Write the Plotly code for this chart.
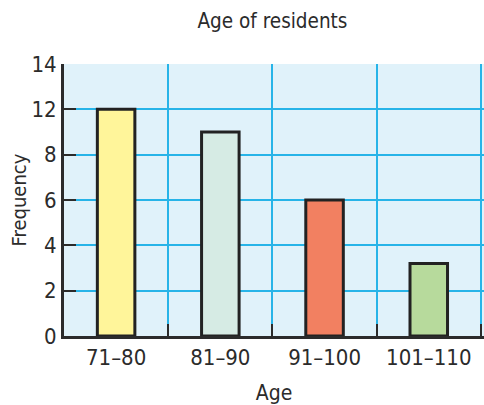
import plotly.graph_objects as go

# Age groups and how many residents fall in each
age_groups = ["71–80", "81–90", "91–100", "101–110"]
bar_heights = [10, 9, 6, 3.2]
bar_colors = ["#fff59a", "#d6ebe4", "#f28061", "#b7da9c"]

# Frequency axis: gridline positions and the labels printed beside them
y_tick_vals = [0, 2, 4, 6, 8, 10, 12]
y_tick_text = ["0", "2", "4", "6", "8", "12", "14"]

FONT = "Liberation Sans Narrow, DejaVu Sans Condensed, Roboto, sans-serif"
INK = "#2b2b2b"
GRID = "#27b4e8"

fig = go.Figure(
    go.Bar(
        x=age_groups,
        y=bar_heights,
        width=0.36,
        marker=dict(color=bar_colors, line=dict(color="#222222", width=3)),
        hoverinfo="skip",
    )
)

fig.update_layout(
    width=484,
    height=405,
    margin=dict(l=64, r=0, t=64, b=69),
    paper_bgcolor="white",
    plot_bgcolor="#e0f2fa",
    showlegend=False,
    font=dict(family=FONT, color=INK, size=20),
    title=dict(
        text="Age of residents",
        x=0.563,
        xanchor="center",
        y=0.948,
        yanchor="middle",
        font=dict(family=FONT, size=20.5, color=INK),
    ),
)

fig.update_xaxes(
    range=[-0.5, 3.53],
    tickson="boundaries",
    showgrid=True,
    gridcolor=GRID,
    gridwidth=2,
    ticks="inside",
    ticklen=12,
    tickwidth=2,
    tickcolor=INK,
    showline=True,
    linecolor=INK,
    linewidth=3,
    tickfont=dict(size=22, color=INK),
    title=dict(text="Age", font=dict(size=21, color=INK), standoff=16),
    zeroline=False,
)

fig.update_yaxes(
    range=[0, 12],
    tickvals=y_tick_vals,
    ticktext=y_tick_text,
    showgrid=True,
    gridcolor=GRID,
    gridwidth=2,
    ticks="inside",
    ticklen=12,
    tickwidth=2,
    tickcolor=INK,
    showline=True,
    linecolor=INK,
    linewidth=3,
    ticklabelstandoff=0,
    tickfont=dict(size=22, color=INK),
    title=dict(text="Frequency", font=dict(size=20, color=INK), standoff=0),
    zeroline=False,
)

fig.write_html("out.html")
